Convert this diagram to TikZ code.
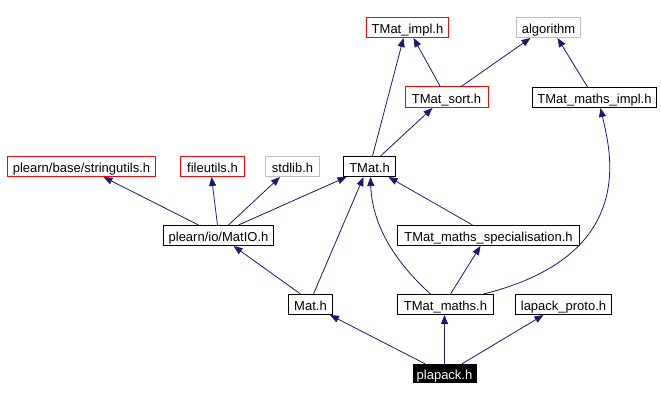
\documentclass[tikz,border=0pt]{standalone}
\usepackage{fontspec}
\setmainfont{Liberation Sans}
\usetikzlibrary{arrows.meta,calc}
\definecolor{edgec}{HTML}{191970}
\definecolor{grayb}{HTML}{BFBFBF}
\definecolor{redb}{HTML}{FF0000}
\begin{document}
\begin{tikzpicture}[x=1pt,y=-1pt,
  bx/.style={draw, line width=1pt, inner sep=0pt, minimum height=20pt, text height=12.6pt, text depth=0pt, font=\fontsize{13}{15}\selectfont},
  rbox/.style={bx, draw=redb},
  gbox/.style={bx, draw=grayb},
  kbox/.style={bx, draw=black},
  e/.style={draw=edgec, line width=0.8pt, -{Triangle[length=9pt,width=7pt]}}]
\fill[white] (0,0) rectangle (661,401);
\useasboundingbox (0,0) rectangle (661,401);
\node[rbox, minimum width=82pt] (impl) at (407.5,27.5) {TMat\_impl.h};
\node[gbox, minimum width=64pt] (algo) at (548.5,27.5) {algorithm};
\node[bx, draw=none, minimum width=82pt] (tsort) at (446.5,97.5) {TMat\_sort.h};
\node[kbox, minimum width=124pt] (mimpl) at (594.5,97.5) {TMat\_maths\_impl.h};
\node[rbox, minimum width=148pt] (str) at (81.5,166.5) {plearn/base/stringutils.h};
\node[rbox, minimum width=64pt] (file) at (212.5,166.5) {fileutils.h};
\node[gbox, minimum width=54pt] (stdlib) at (292.5,166.5) {stdlib.h};
\node[kbox, minimum width=52pt] (tmat) at (369.5,166.5) {TMat.h};
\node[kbox, minimum width=110pt] (matio) at (218.5,235.5) {plearn/io/MatIO.h};
\node[kbox, minimum width=182pt] (spec) at (488.5,235.5) {TMat\_maths\_specialisation.h};
\node[kbox, minimum width=44pt] (mat) at (310.5,304.5) {Mat.h};
\node[kbox, minimum width=96pt] (tmaths) at (445.5,304.5) {TMat\_maths.h};
\node[kbox, minimum width=96pt] (lapack) at (563.5,304.5) {lapack\_proto.h};
\node[fill=black, text=white, inner sep=0pt, minimum width=64pt, minimum height=19pt, text height=12pt, text depth=0pt, font=\fontsize{13}{15}\selectfont] (plapack) at (444.5,373.5) {plapack.h};
\draw[redb, line width=1pt] (tsort.north west) rectangle (tsort.south east);
% edges
\draw[e] ($(tsort.north)+(-6,0)$) -- ($(impl.south)+(6,0)$);
\draw[e] ($(tsort.north)+(14,0)$) -- ($(algo.south)+(-18,0)$);
\draw[e] ($(mimpl.north)+(-7,0)$) -- ($(algo.south)+(9,0)$);
\draw[e] ($(tmat.north)+(3,0)$) -- ($(impl.south)+(-4,0)$);
\draw[e] ($(tmat.north)+(11,0)$) -- ($(tsort.south)+(-14,0)$);
\draw[e] ($(matio.north)+(-20,0)$) -- ($(str.south)+(22,0)$);
\draw[e] ($(matio.north)+(-1,0)$) -- ($(file.south)+(-1,0)$);
\draw[e] ($(matio.north)+(10,0)$) -- ($(stdlib.south)+(-12.5,0)$);
\draw[e] ($(matio.north)+(20,0)$) -- ($(tmat.south)+(-23,0)$);
\draw[e] ($(mat.north)+(-10,0)$) -- ($(matio.south)+(15,0)$);
\draw[e] ($(mat.north)+(3,0)$) -- ($(tmat.south)+(-6,0)$);
\draw[e] ($(tmaths.north)+(-15,0)$) .. controls (395,262) and (372,225) .. ($(tmat.south)+(1,0)$);
\draw[e] ($(spec.north)+(-16,0)$) -- ($(tmat.south)+(19,0)$);
\draw[e] ($(tmaths.north)+(5,0)$) -- ($(spec.south)+(-8,0)$);
\draw[e] ($(tmaths.north)+(38,0)$) .. controls (640,255) and (610,150) .. ($(mimpl.south)+(6,0)$);
\draw[e] ($(plapack.north)+(-19.5,0)$) -- ($(mat.south)+(19.5,0)$);
\draw[e] (plapack.north) -- (plapack.north |- tmaths.south);
\draw[e] ($(plapack.north)+(17.5,0)$) -- ($(lapack.south)+(-20,0)$);
\end{tikzpicture}
\end{document}
